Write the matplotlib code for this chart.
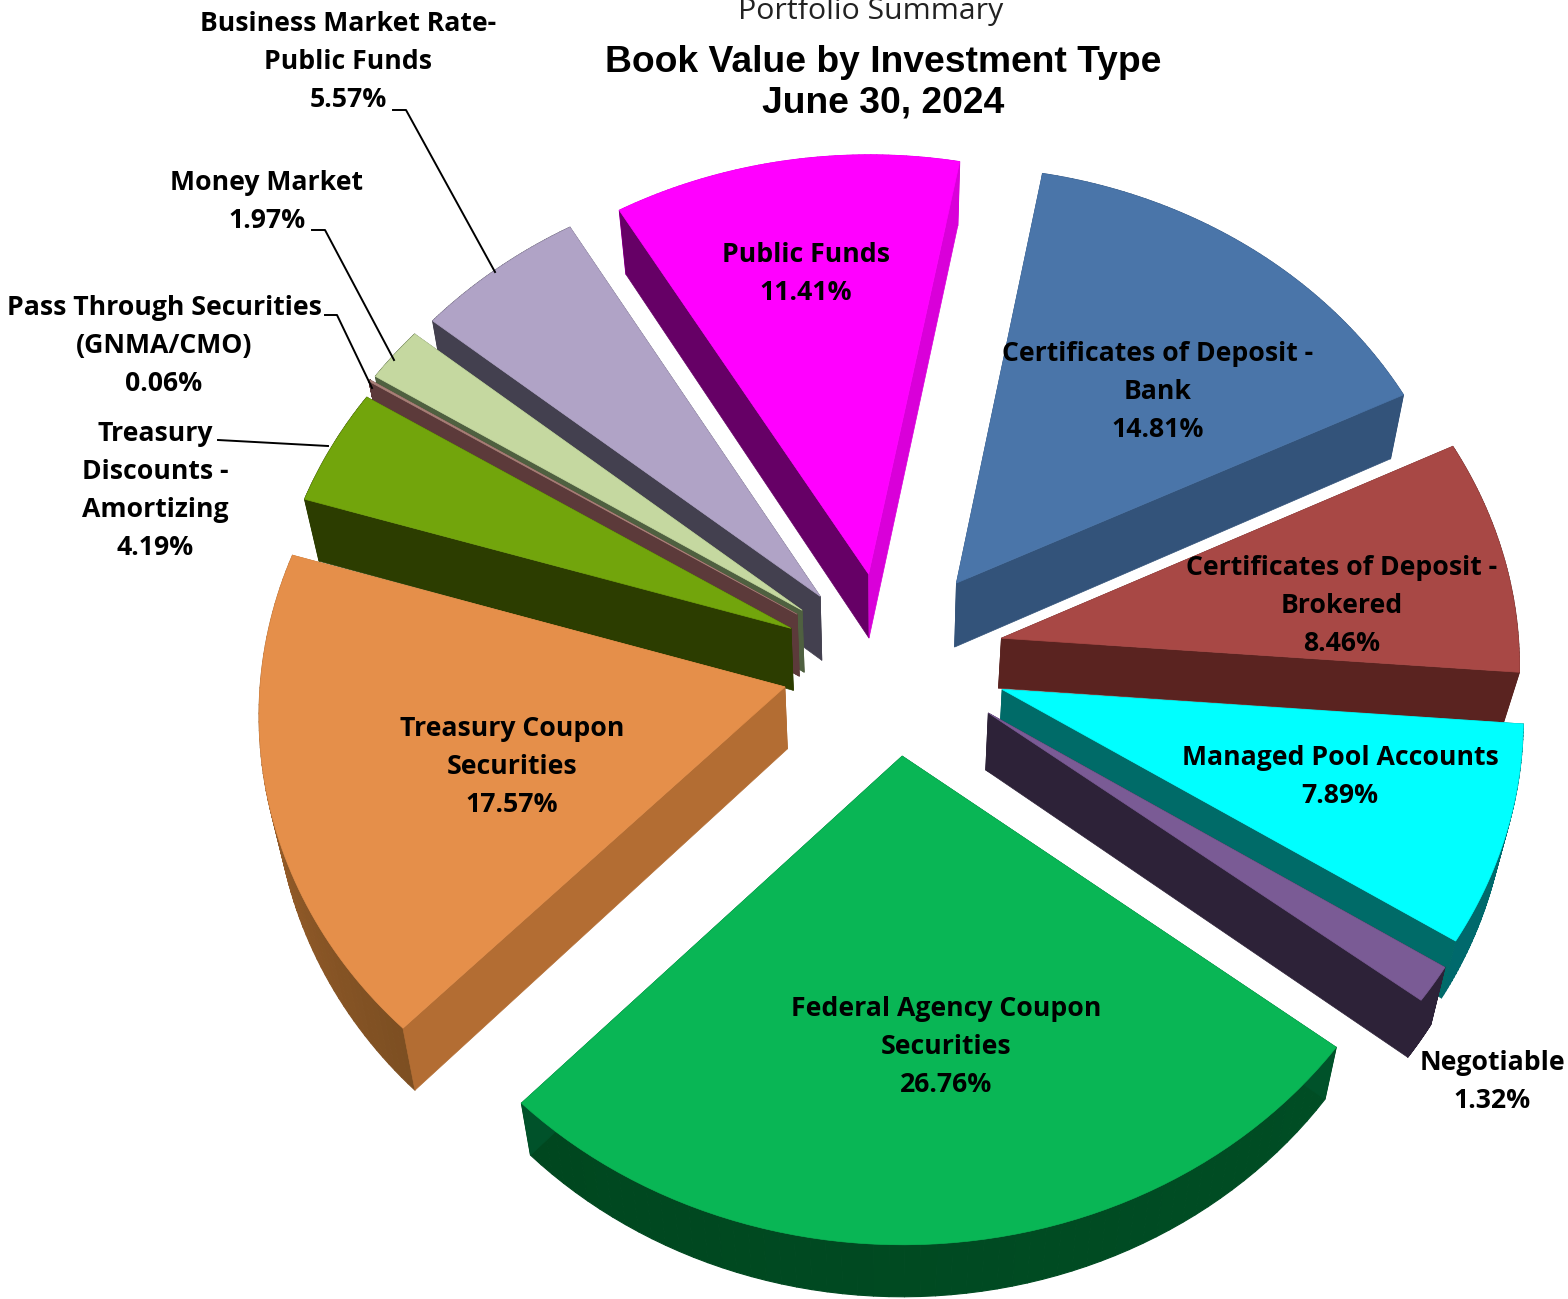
import matplotlib
matplotlib.use('Agg')
import matplotlib.pyplot as plt
import numpy as np
from matplotlib.collections import PolyCollection
from matplotlib.colors import to_rgb
from matplotlib.patches import Polygon

# slices clockwise, starting at Certificates of Deposit - Bank
names = ['Certificates of Deposit -\nBank', 'Certificates of Deposit -\nBrokered', 'Managed Pool Accounts',
         'Negotiable', 'Federal Agency Coupon\nSecurities', 'Treasury Coupon\nSecurities',
         'Treasury\nDiscounts -\nAmortizing', 'Pass Through Securities\n(GNMA/CMO)', 'Money Market',
         'Business Market Rate-\nPublic Funds', 'Public Funds']
values = [14.81, 8.46, 7.89, 1.32, 26.76, 17.57, 4.19, 0.06, 1.97, 5.57, 11.41]

explode = [0.22, 0.22, 0.23, 0.22, 0.205, 0.20, 0.21, 0.21, 0.21, 0.20, 0.205]
nudge_x = [2, 3, 2, 8, 9, 2, 6, 5, 6, 3, 2]
nudge_y = [0, -5, -6, -7, 0, 2, 6, 3, 4, 3, 3]
radius = [0.98, 0.985, 0.985, 0.99, 0.995, 0.995, 0.99, 1.0, 1.0, 1.0, 0.99]
depths = [64, 50, 57, 57, 52, 62, 62, 62, 62, 64, 64]
top_colors = ['#4a75a9', '#a84845', '#00ffff', '#7a5b95', '#09b655', '#e58f4a',
              '#72a50c', '#a98078', '#c5d8a0', '#b0a3c6', '#ff00ff']
start_faces = ['#33537a', '#5a2320', '#006b68', '#2d2238', '#00522a', '#b36d33',
               '#2c3d00', '#5c3a3a', '#4f6040', '#43404f', '#660066']
end_faces = ['#33537a', '#5a2320', '#006b68', '#2d2238', '#00522a', '#b36d33',
             '#2c3d00', '#5c3a3a', '#4f6040', '#43404f', '#d900d9']
outer_a = ['#33537a', '#5a2320', '#00696c', '#2d2238', '#004d24', '#7d4f22',
           '#2c3d00', '#5c3a3a', '#4f6040', '#43404f', '#d900d9']
outer_b = ['#33537a', '#5a2320', '#00696c', '#2d2238', '#00471f', '#a8662f',
           '#2c3d00', '#5c3a3a', '#4f6040', '#43404f', '#d900d9']

draw_order = [9, 8, 7, 6, 10, 0, 1, 2, 3, 5, 4]
start_angle = 10.6
cx, cy = 885, 662
rx, ry, persp = 526, 455, 0.053


def project(x, y):
    w = 1 + persp * y
    return cx + rx * x / w, cy - ry * y / w


fig = plt.figure(figsize=(15.68, 12.99), dpi=100)
ax = fig.add_axes([0, 0, 1, 1])
ax.set_xlim(0, 1568)
ax.set_ylim(1299, 0)
ax.axis('off')

edges = start_angle + np.concatenate([[0], np.cumsum(values)]) / np.sum(values) * 360

for i in draw_order:
    th = np.radians(np.linspace(edges[i], edges[i + 1], 60))
    mid = np.radians((edges[i] + edges[i + 1]) / 2)
    ox, oy = explode[i] * np.sin(mid), explode[i] * np.cos(mid)
    ax_x, ax_y = project(ox, oy)
    arc_x, arc_y = project(ox + radius[i] * np.sin(th), oy + radius[i] * np.cos(th))
    ax_x, ax_y = ax_x + nudge_x[i], ax_y + nudge_y[i]
    arc_x, arc_y = arc_x + nudge_x[i], arc_y + nudge_y[i]

    def lower(x, y):
        return cx + (np.asarray(x) - cx) * 0.975, np.asarray(y) + depths[i]

    lx, ly = lower(arc_x, arc_y)
    la_x, la_y = lower(ax_x, ax_y)

    # outer rim, split up so it can shade along the arc
    quads = [[(arc_x[k], arc_y[k]), (arc_x[k + 1], arc_y[k + 1]), (lx[k + 1], ly[k + 1]), (lx[k], ly[k])]
             for k in range(len(th) - 1)]
    t = np.linspace(0, 1, len(quads))[:, None]
    cols = np.array(to_rgb(outer_a[i])) * (1 - t) + np.array(to_rgb(outer_b[i])) * t
    ax.add_collection(PolyCollection(quads, facecolors=cols, edgecolors=cols, linewidths=0.8))

    ax.add_patch(Polygon([(ax_x, ax_y), (arc_x[0], arc_y[0]), (lx[0], ly[0]), (la_x, la_y)],
                         fc=start_faces[i], ec=start_faces[i], lw=0.5))
    ax.add_patch(Polygon([(ax_x, ax_y), (arc_x[-1], arc_y[-1]), (lx[-1], ly[-1]), (la_x, la_y)],
                         fc=end_faces[i], ec=end_faces[i], lw=0.5))
    ax.add_patch(Polygon(np.column_stack([np.r_[ax_x, arc_x], np.r_[ax_y, arc_y]]),
                         fc=top_colors[i], ec=top_colors[i], lw=0.5))

# label centres, same order as names
label_pos = [(1158, 392), (1342, 606), (1340, 777), (1492, 1082), (946, 1047), (512, 767),
             (155, 491), (164, 346), (267, 202), (348, 62), (806, 274)]
font = 'Open Sans'
for i, (lx, ly) in enumerate(label_pos):
    ax.text(lx, ly, f'{names[i]}\n{values[i]:.2f}%', ha='center', va='center', fontsize=19.2,
            fontweight='bold', family=font, linespacing=1.6, color='black')

ax.text(871, 11, 'Portfolio Summary', ha='center', va='center', fontsize=21.8, family=font, color='#222222')
ax.text(883, 83, 'Book Value by Investment Type\nJune 30, 2024', ha='center', va='center', fontsize=26.8,
        fontweight='bold', family='Liberation Sans', linespacing=1.22)

leaders = [[(393, 110), (406, 110), (495, 272)],
           [(312, 230), (325, 230), (394, 360)],
           [(325, 315), (337, 315), (372, 388)],
           [(218, 440), (328, 446)]]
for pts in leaders:
    xs, ys = zip(*pts)
    ax.plot(xs, ys, color='black', lw=1.4)

fig.savefig('out.png', dpi=100)
